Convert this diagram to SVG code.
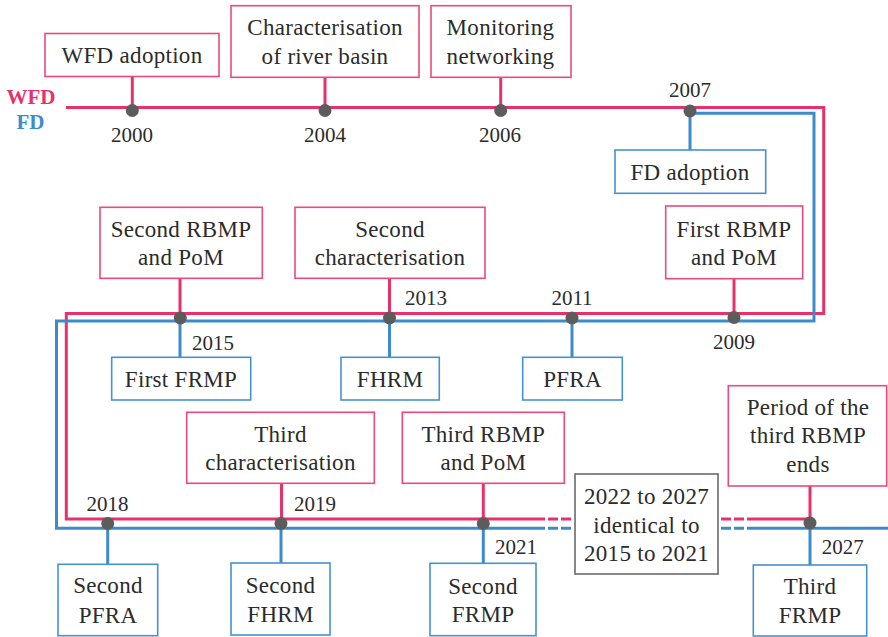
<svg xmlns="http://www.w3.org/2000/svg" width="888" height="637" viewBox="0 0 888 637">
  <style>
    text { font-family: "Liberation Serif", "Times New Roman", serif; fill: #2b2b2b; }
    .box text { font-size: 23px; text-anchor: middle; letter-spacing: 0.3px; }
    .yr { font-size: 21px; }
    .c { text-anchor: middle; }
    .pbox { fill: #ffffff; stroke: #ec4a7c; stroke-width: 1.6; }
    .bbox { fill: #ffffff; stroke: #4592d2; stroke-width: 1.6; }
    .gbox { fill: #ffffff; stroke: #6a6a6a; stroke-width: 1.6; }
    .wfd { fill: none; stroke: #e8316b; stroke-width: 3; }
    .fd { fill: none; stroke: #3d8bcd; stroke-width: 3; }
    .dash { stroke-dasharray: 10 3; }
    .dot { fill: #5c5c5c; }
    .lbl { font-size: 21px; font-weight: bold; text-anchor: middle; }
  </style>

  <!-- legend -->
  <text class="lbl" x="31" y="104" style="fill:#e8316b">WFD</text>
  <text class="lbl" x="30.5" y="129" style="fill:#3d8bcd">FD</text>

  <!-- timelines, ticks and dots -->
  <g id="connectors">
    <!-- WFD line -->
    <path class="wfd" d="M66,107.5 H823.7 V313.5 H66.3 V519 H535"/>
    <path class="wfd dash" d="M535,519 H573"/>
    <path class="wfd dash" d="M721,519 H757"/>
    <path class="wfd" d="M757,519 H810"/>
    <!-- FD line -->
    <path class="fd" d="M690,113.3 H814 V321 H56.5 V528.3 H535"/>
    <path class="fd dash" d="M535,528.3 H573"/>
    <path class="fd dash" d="M721,528.3 H757"/>
    <path class="fd" d="M757,528.3 H888"/>

    <!-- WFD ticks -->
    <path class="wfd" d="M132.3,76.5 V107.5 M325,77.3 V107.5 M500.7,77.3 V107.5 M734,278.7 V313.5 M180,278.3 V313.5 M389.5,278.3 V313.5 M281.5,483.3 V519 M483.3,483.3 V519 M810,486 V519"/>
    <!-- FD ticks -->
    <path class="fd" d="M690,113 V150 M180,321 V357.3 M389.5,321 V357.3 M572,321 V357.3 M107.7,528 V564.3 M281,528 V563 M483.3,528 V563.3 M810,528 V565"/>

    <circle class="dot" cx="132.3" cy="110.5" r="6.5"/>
    <circle class="dot" cx="325" cy="110.5" r="6.5"/>
    <circle class="dot" cx="500.7" cy="110.5" r="6.5"/>
    <circle class="dot" cx="690" cy="111" r="6.5"/>
    <circle class="dot" cx="734" cy="317.5" r="6.5"/>
    <circle class="dot" cx="572" cy="318" r="6.5"/>
    <circle class="dot" cx="389.5" cy="318" r="6.5"/>
    <circle class="dot" cx="180.3" cy="318" r="6.5"/>
    <circle class="dot" cx="107.7" cy="523.5" r="6.5"/>
    <circle class="dot" cx="281" cy="523.5" r="6.5"/>
    <circle class="dot" cx="483.3" cy="523.5" r="6.5"/>
    <circle class="dot" cx="810" cy="523" r="6.5"/>
  </g>

  <!-- year labels -->
  <g id="years" class="yr">
    <text class="c" x="132" y="142">2000</text>
    <text class="c" x="325" y="142">2004</text>
    <text class="c" x="500" y="142">2006</text>
    <text class="c" x="690" y="97">2007</text>
    <text class="c" x="734" y="348.5">2009</text>
    <text class="c" x="572" y="305">2011</text>
    <text x="405" y="305">2013</text>
    <text x="192" y="350">2015</text>
    <text class="c" x="107.5" y="511">2018</text>
    <text x="294" y="511">2019</text>
    <text x="495" y="553.5">2021</text>
    <text x="821.7" y="554">2027</text>
  </g>

  <!-- WFD milestones -->
  <g id="wfd-adoption" class="box">
    <rect class="pbox" x="45" y="33.5" width="174" height="43"/>
    <text x="132" y="63.3">WFD adoption</text>
  </g>
  <g id="characterisation" class="box">
    <rect class="pbox" x="231" y="5.7" width="188" height="71.6"/>
    <text x="325" y="35">Characterisation</text>
    <text x="325" y="63.5">of river basin</text>
  </g>
  <g id="monitoring" class="box">
    <rect class="pbox" x="431" y="5.7" width="140" height="71.6"/>
    <text x="500.5" y="35">Monitoring</text>
    <text x="500.5" y="63.5">networking</text>
  </g>
  <g id="first-rbmp" class="box">
    <rect class="pbox" x="665.7" y="206" width="137" height="72.7"/>
    <text x="734" y="236.7">First RBMP</text>
    <text x="734" y="265">and PoM</text>
  </g>
  <g id="second-rbmp" class="box">
    <rect class="pbox" x="100" y="207.3" width="162.3" height="71"/>
    <text x="181" y="236.7">Second RBMP</text>
    <text x="181" y="265">and PoM</text>
  </g>
  <g id="second-characterisation" class="box">
    <rect class="pbox" x="295" y="207.3" width="190" height="71"/>
    <text x="390" y="236.7">Second</text>
    <text x="390" y="265">characterisation</text>
  </g>
  <g id="third-characterisation" class="box">
    <rect class="pbox" x="186.7" y="412.3" width="187.6" height="71"/>
    <text x="280.5" y="441.7">Third</text>
    <text x="280.5" y="470">characterisation</text>
  </g>
  <g id="third-rbmp" class="box">
    <rect class="pbox" x="402.3" y="412.3" width="162" height="71"/>
    <text x="483.3" y="441.7">Third RBMP</text>
    <text x="483.3" y="470">and PoM</text>
  </g>
  <g id="period-end" class="box">
    <rect class="pbox" x="728.3" y="385.7" width="158.4" height="100.3"/>
    <text x="808" y="415">Period of the</text>
    <text x="808" y="443.3">third RBMP</text>
    <text x="808" y="471.7">ends</text>
  </g>

  <!-- FD milestones -->
  <g id="fd-adoption" class="box">
    <rect class="bbox" x="615" y="150" width="150.7" height="43.3"/>
    <text x="690" y="180">FD adoption</text>
  </g>
  <g id="first-frmp" class="box">
    <rect class="bbox" x="111.7" y="357.3" width="139" height="42.7"/>
    <text x="181" y="386.7">First FRMP</text>
  </g>
  <g id="fhrm" class="box">
    <rect class="bbox" x="341" y="357.3" width="98.3" height="42.7"/>
    <text x="390" y="386.7">FHRM</text>
  </g>
  <g id="pfra" class="box">
    <rect class="bbox" x="522.7" y="357.3" width="99.6" height="42.7"/>
    <text x="572.5" y="386.7">PFRA</text>
  </g>
  <g id="second-pfra" class="box">
    <rect class="bbox" x="58" y="564.3" width="99.7" height="71.4"/>
    <text x="108" y="593.3">Second</text>
    <text x="108" y="622.7">PFRA</text>
  </g>
  <g id="second-fhrm" class="box">
    <rect class="bbox" x="231" y="563" width="99" height="72"/>
    <text x="280.5" y="593">Second</text>
    <text x="280.5" y="622.3">FHRM</text>
  </g>
  <g id="second-frmp" class="box">
    <rect class="bbox" x="430" y="563.3" width="106" height="72.4"/>
    <text x="483" y="594">Second</text>
    <text x="483" y="622.3">FRMP</text>
  </g>
  <g id="third-frmp" class="box">
    <rect class="bbox" x="753.3" y="565" width="113.4" height="71"/>
    <text x="810" y="593.5">Third</text>
    <text x="810" y="622.5">FRMP</text>
  </g>

  <!-- repeat-cycle note -->
  <g id="repeat-note" class="box">
    <rect class="gbox" x="575" y="474" width="143" height="100"/>
    <text x="646.5" y="504.3">2022 to 2027</text>
    <text x="646.5" y="532.7">identical to</text>
    <text x="646.5" y="561">2015 to 2021</text>
  </g>
</svg>
